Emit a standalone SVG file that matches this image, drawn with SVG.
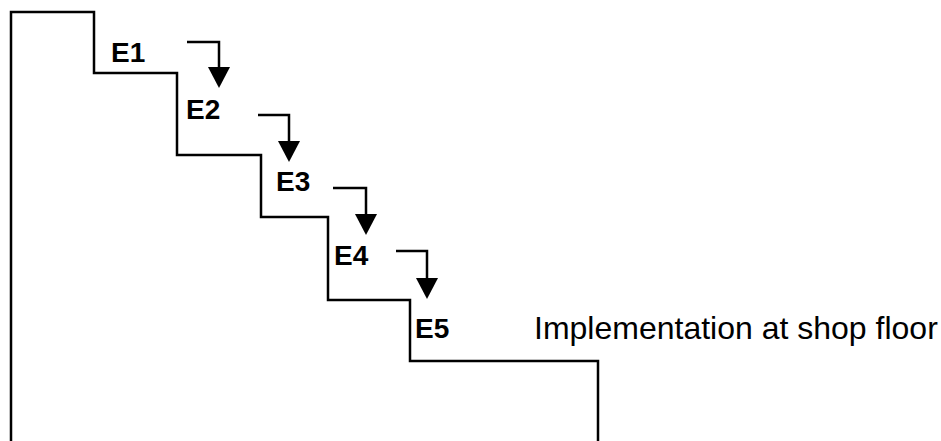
<svg xmlns="http://www.w3.org/2000/svg" width="941" height="441" viewBox="0 0 941 441">
  <style>
    .stair { fill: none; stroke: #000; stroke-width: 2.5; stroke-linejoin: miter; }
    .flow { fill: none; stroke: #000; stroke-width: 2.5; marker-end: url(#head); }
    .step { font-family: "Liberation Sans", Arial, sans-serif; font-weight: bold; font-size: 28px; fill: #000; }
    .note { font-family: "Liberation Sans", Arial, sans-serif; font-size: 32px; fill: #000; }
  </style>
  <defs>
    <marker id="head" markerUnits="userSpaceOnUse" markerWidth="21" markerHeight="22" viewBox="0 0 21 22" refX="0" refY="11" orient="auto">
      <path d="M0,0 L21,11 L0,22 Z" fill="#000"/>
    </marker>
  </defs>
  <rect width="941" height="441" fill="#fff"/>

  <!-- staircase outline -->
  <g id="stairs">
    <path class="stair" d="M11,441 V12 H94 V73 H177 V155 H261 V217 H328 V300 H410 V361 H598 V441"/>
  </g>

  <!-- step labels -->
  <g id="E1"><text class="step" x="111" y="62">E1</text></g>
  <g id="E2"><text class="step" x="186" y="119">E2</text></g>
  <g id="E3"><text class="step" x="276" y="191">E3</text></g>
  <g id="E4"><text class="step" x="334" y="265">E4</text></g>
  <g id="E5">
    <text class="step" x="415" y="338">E5</text>
    <text class="note" x="534" y="339">Implementation at shop floor</text>
  </g>

  <!-- step-down arrows -->
  <g id="connectors">
    <path class="flow" d="M187,42 H219 V67"/>
    <path class="flow" d="M258,115 H289 V141"/>
    <path class="flow" d="M333,188 H366 V214"/>
    <path class="flow" d="M396,251 H427 V278"/>
  </g>
</svg>
